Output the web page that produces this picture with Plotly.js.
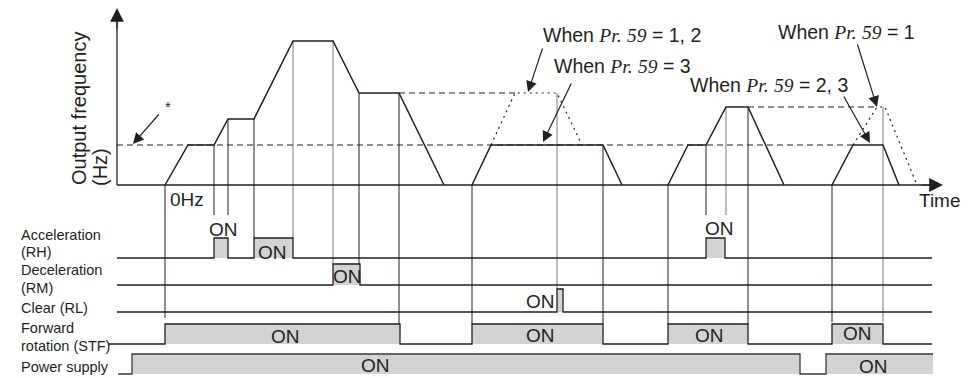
<!DOCTYPE html>
<html><head><meta charset="utf-8">
<script src="https://cdn.plot.ly/plotly-3.0.1.min.js"></script>
<style>html,body{margin:0;padding:0;background:#fff}#chart{width:968px;height:378px}</style>
</head><body><div id="chart"></div>
<script>
// ================= DATA =================
// Output-frequency profile: time (diagram units) and frequency level above 0 Hz
const runATime = [165, 188, 214, 228, 254, 293, 333, 359, 399, 444];
const runAFreq = [0, 40, 40, 66, 66, 144, 144, 92, 92, 0];
const runBTime = [472, 491, 603, 622];
const runBFreq = [0, 40, 40, 0];
const runCTime = [668, 688, 706, 726, 748, 784];
const runCFreq = [0, 40, 40, 78, 78, 0];
const runDTime = [832, 853, 883, 899];
const runDFreq = [0, 40, 40, 0];

// Reference level (*) and alternative Pr.59 paths
const refTime = [117, 852];
const refFreq = [40, 40];
const alt12DashTime = [399, 515];
const alt12DashFreq = [92, 92];
const alt12DotTime = [491, 515, 557, 582];
const alt12DotFreq = [40, 92, 92, 40];
const alt1DashTime = [748, 877];
const alt1DashFreq = [78, 78];
const alt1DotTime = [853, 877, 885, 917];
const alt1DotFreq = [40, 78, 78, 0];

// Vertical timing guides (time, frequency level where they start)
const guideTime = [165, 214, 228, 254, 293, 333, 359, 399, 472, 557, 603, 668, 706, 726, 748, 832, 883];
const guideFreq = [0, 40, 66, 66, 144, 144, 92, 92, 0, 92, 40, 0, 40, 78, 78, 0, 78];
const guideGray = [false, false, false, false, true, true, false, false, false, true, false, false, false, true, false, false, true];

// Signals: ON intervals (start, end)
const rowNames = ['Acceleration\n(RH)', 'Deceleration\n(RM)', 'Clear (RL)', 'Forward\nrotation (STF)', 'Power supply'];
const rhOn = [[214, 228], [254, 293], [706, 725]];
const rmOn = [[333, 360]];
const rlOn = [[557, 563]];
const stfOn = [[165, 400], [472, 603], [668, 748], [832, 883]];
const pwrOn = [[132, 800], [826, 933]];
const signals = [rhOn, rmOn, rlOn, stfOn, pwrOn];

const notes = ['When <i>Pr.</i> <i>59</i> = 1, 2', 'When <i>Pr.</i> <i>59</i> = 3', 'When <i>Pr.</i> <i>59</i> = 1', 'When <i>Pr.</i> <i>59</i> = 2, 3'];

// ================= LAYOUT / STYLE =================
const FREQ_BASE = 185;
const fy = f => FREQ_BASE - f;
const INK = '#231f20', GRAYLINE = '#7a7a7a', FILL = '#d3d3d3';
const SANS = 'Liberation Sans, Arial, sans-serif';
const SERIF = 'Liberation Serif, Times New Roman, serif';
const guideStop = [318, 215, 215, 238, 238, 264, 264, 324, 324, 289, 324, 324, 215, 215, 324, 322, 322];
const rowGeom = [
  {base: 258, high: 238, x0: 117, x1: 932, labelY: [235, 252]},
  {base: 285, high: 264, x0: 117, x1: 932, labelY: [270, 288]},
  {base: 312, high: 289, x0: 117, x1: 932, labelY: [308]},
  {base: 344, high: 324, x0: 108, x1: 932, labelY: [328, 346]},
  {base: 374, high: 354, x0: 118, x1: 933, labelY: [367]}
];
const onPos = [
  [[223, 229], [272, 252], [719, 228]],
  [[347, 276]],
  [[540, 301]],
  [[285, 336], [540, 335], [709, 335], [857, 333]],
  [[375, 365], [873, 366]]
];
const notePos = [[541, 35], [552, 66], [776, 32], [688, 85]];
const noteArrows = [[528, 92, 543, 47], [543, 142, 572, 82], [877, 107, 857, 43], [870, 143, 843, 95]];

const traces = [];
function line(x, y, color, width, dash) {
  traces.push({type: 'scatter', mode: 'lines', x: x, y: y, hoverinfo: 'skip',
    line: {color: color, width: width, dash: dash || 'solid'}});
}

// signal fills first
signals.forEach((pulses, i) => {
  const g = rowGeom[i];
  pulses.forEach(p => {
    traces.push({type: 'scatter', mode: 'lines', x: [p[0], p[0], p[1], p[1], p[0]],
      y: [g.base, g.high, g.high, g.base, g.base], fill: 'toself', fillcolor: FILL,
      line: {width: 0, color: FILL}, hoverinfo: 'skip'});
  });
});

// guides
guideTime.forEach((t, i) => {
  line([t, t], [fy(guideFreq[i]), guideStop[i]], guideGray[i] ? GRAYLINE : INK, 1);
});

// reference dashed / dotted paths
line(refTime, refFreq.map(fy), INK, 1.1, '6px,4px');
line(alt12DashTime, alt12DashFreq.map(fy), INK, 1.1, '6px,4px');
line(alt12DotTime, alt12DotFreq.map(fy), INK, 1.2, '2px,4px');
line(alt1DashTime, alt1DashFreq.map(fy), INK, 1.1, '6px,4px');
line(alt1DotTime, alt1DotFreq.map(fy), INK, 1.2, '2px,4px');

// frequency profile
[[runATime, runAFreq], [runBTime, runBFreq], [runCTime, runCFreq], [runDTime, runDFreq]].forEach(r => {
  line(r[0], r[1].map(fy), INK, 1.5);
});

// signal step lines
signals.forEach((pulses, i) => {
  const g = rowGeom[i];
  const xs = [g.x0], ys = [g.base];
  let high = false;
  pulses.forEach(p => {
    xs.push(p[0], p[0]); ys.push(g.base, g.high);
    if (p[1] < g.x1) { xs.push(p[1], p[1]); ys.push(g.high, g.base); }
    else { xs.push(g.x1); ys.push(g.high); high = true; }
  });
  if (!high) { xs.push(g.x1); ys.push(g.base); }
  line(xs, ys, i === 4 ? '#3a3a3a' : INK, 1.3);
});

// axes lines
line([117, 117], [FREQ_BASE, 14], INK, 1.3);
line([117, 936], [FREQ_BASE, FREQ_BASE], INK, 1.3);

const ann = [];
function arrow(tx, ty, sx, sy, size) {
  ann.push({x: tx, y: ty, ax: sx, ay: sy, xref: 'x', yref: 'y', axref: 'x', ayref: 'y',
    text: '', showarrow: true, arrowhead: 2, arrowsize: size, arrowwidth: 1.2, arrowcolor: INK, standoff: 0, startstandoff: 0});
}
function text(t, x, y, size, xanchor, extra) {
  ann.push(Object.assign({x: x, y: y, xref: 'x', yref: 'y', text: t, showarrow: false,
    xanchor: xanchor || 'left', yanchor: 'middle', font: {family: SANS, size: size, color: INK}}, extra || {}));
}
arrow(117, 8, 117, 30, 2.3);
arrow(943, FREQ_BASE, 920, FREQ_BASE, 2.3);
arrow(133, 144, 160, 113, 1.8);
noteArrows.forEach(a => arrow(a[0], a[1], a[2], a[3], 1.8));

notes.forEach((n, i) => {
  const t = n.replace(/<i>(.*?)<\/i>/g, '<span style="font-family:' + SERIF + '"><i>$1</i></span>');
  text(t, notePos[i][0], notePos[i][1], 19.5);
});
text('*', 163, 106, 15);
text('0Hz', 168, 199, 19);
text('Time', 917, 200, 19);
text('Output frequency', 79, 109, 20, 'center', {textangle: -90});
text('(Hz)', 100, 167, 20, 'center', {textangle: -90});

rowNames.forEach((n, i) => {
  n.split('\n').forEach((ln, j) => text(ln, 19, rowGeom[i].labelY[j], 14.5));
});
onPos.forEach(row => row.forEach(p => text('ON', p[0], p[1], 19, 'center')));

const layout = {
  width: 968, height: 378, margin: {l: 0, r: 0, t: 0, b: 0},
  paper_bgcolor: '#fff', plot_bgcolor: '#fff', showlegend: false,
  xaxis: {range: [0, 968], visible: false, fixedrange: true},
  yaxis: {range: [378, 0], visible: false, fixedrange: true},
  annotations: ann
};
Plotly.newPlot('chart', traces, layout, {staticPlot: true});
</script></body></html>
